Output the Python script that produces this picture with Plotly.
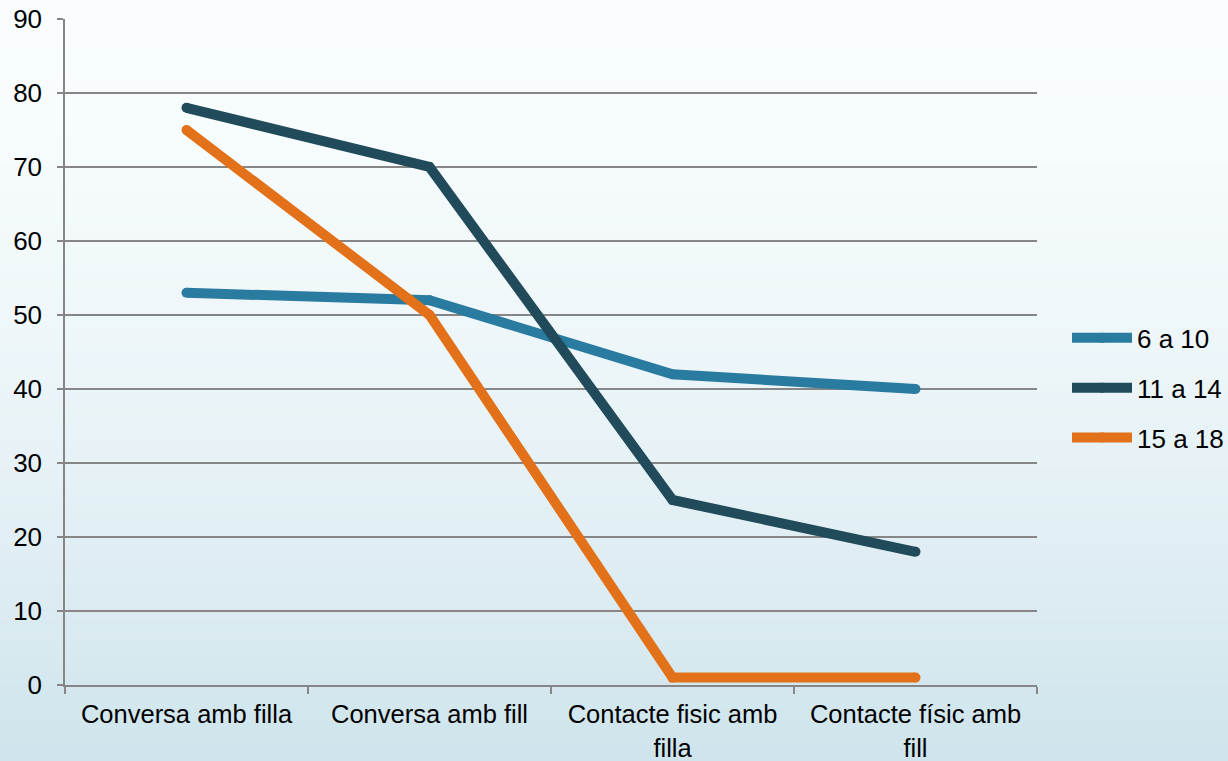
import plotly.graph_objects as go

categories = ["Conversa amb filla", "Conversa amb fill",
              "Contacte fisic amb<br>filla", "Contacte físic amb<br>fill"]
series_names = ["6 a 10", "11 a 14", "15 a 18"]
s_6_10 = [53, 52, 42, 40]
s_11_14 = [78, 70, 25, 18]
s_15_18 = [75, 50, 1, 1]
colors = ["#2A7BA0", "#214A5A", "#E2711A"]
y_ticks = [0, 10, 20, 30, 40, 50, 60, 70, 80, 90]

W, H = 1228, 761
ML, MR, MT, MB = 65, 191, 19, 76
PW, PH = W - ML - MR, H - MT - MB

fig = go.Figure()
for name, vals, col in zip(series_names, [s_6_10, s_11_14, s_15_18], colors):
    fig.add_trace(go.Scatter(
        x=categories, y=vals, name=name, mode="lines+markers",
        line=dict(color=col, width=10),
        marker=dict(color=col, size=10, line=dict(width=0)),
        legendgroup=name,
    ))

# vertical gradient background
top = (249, 253, 254)
bot = (207, 228, 236)
n = 60
shapes = []
y_top = 1 + MT / PH
y_bot = -MB / PH
for i in range(n):
    t = i / (n - 1)
    t2 = t ** 1.6
    c = tuple(round(top[k] + (bot[k] - top[k]) * t2) for k in range(3))
    ya = y_top - (y_top - y_bot) * i / n
    yb = y_top - (y_top - y_bot) * (i + 1) / n
    shapes.append(dict(type="rect", xref="paper", yref="paper",
                       x0=-ML / PW, x1=1 + MR / PW, y0=yb, y1=ya + 0.002,
                       fillcolor="rgb(%d,%d,%d)" % c, line=dict(width=0),
                       layer="below"))

fig.update_layout(
    width=W, height=H,
    margin=dict(l=ML, r=MR, t=MT, b=MB, autoexpand=False),
    paper_bgcolor="rgb(249,253,254)",
    plot_bgcolor="rgba(0,0,0,0)",
    font=dict(family="Liberation Sans, Arial, sans-serif", size=26, color="#000000"),
    shapes=shapes,
    showlegend=True,
    legend=dict(x=1 + 30 / PW, xanchor="left", y=0.446, yanchor="middle",
                bgcolor="rgba(0,0,0,0)", font=dict(size=26),
                tracegroupgap=13, itemwidth=60, traceorder="grouped"),
    xaxis=dict(type="category", range=[-0.5, 3.5], showgrid=False,
               showline=True, linecolor="#868686", linewidth=1.5,
               ticks="outside", tickson="boundaries", ticklen=7,
               tickcolor="#868686", tickwidth=1.5, tickfont=dict(size=25.5),
               ticklabelstandoff=6, automargin=False),
    yaxis=dict(range=[0, 90], tickvals=y_ticks, showgrid=True,
               gridcolor="#868686", gridwidth=1.5, zeroline=False,
               showline=True, linecolor="#868686", linewidth=1.5,
               ticks="outside", ticklen=6, tickcolor="#868686", tickwidth=1.5,
               tickfont=dict(size=26), ticklabelstandoff=10, automargin=False),
)

fig.write_html("out.html", config={"displayModeBar": False},
               post_script="document.body.style.margin='0';document.body.style.overflow='hidden';")
